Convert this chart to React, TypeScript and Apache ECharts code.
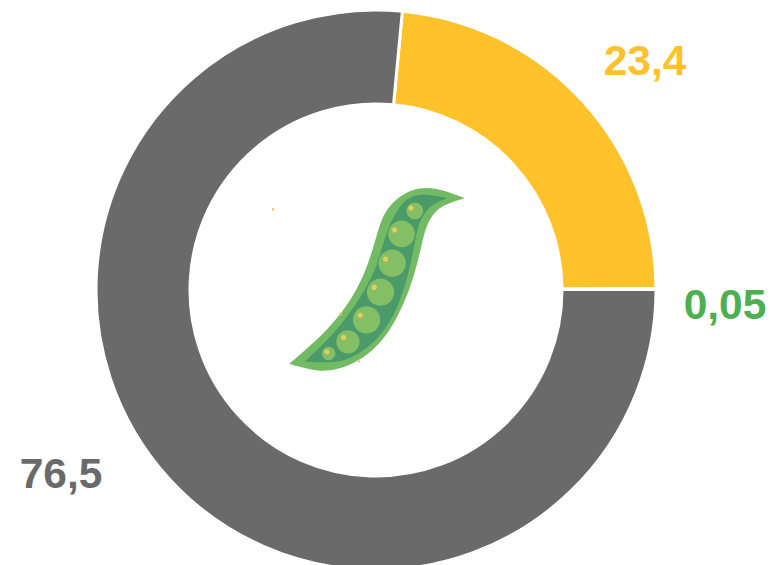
import React, { useEffect, useRef } from "react";
import * as echarts from "echarts";

const names = ["Yellow", "Green", "Gray"];
const values = [23.4, 0.05, 76.5];
const valueLabels = ["23,4", "0,05", "76,5"];
const colors = ["#ffc22b", "#4caf50", "#6a6a6a"];
const labelCenters = [
  [645, 60],
  [725, 304],
  [61, 473],
];

const podOuterTop = [[585, 85], [530, 62], [470, 52], [420, 60], [370, 95], [340, 135], [322, 190], [305, 250], [280, 320], [240, 395], [190, 460], [130, 520], [58, 582]];
const podOuterBottom = [[58, 582], [130, 604], [190, 602], [250, 582], [310, 542], [360, 482], [402, 402], [432, 320], [452, 240], [467, 175], [490, 130], [530, 100], [585, 85]];
const podInnerTop = [[532, 85], [470, 70], [420, 80], [390, 108], [360, 160], [340, 220], [320, 290], [285, 360], [240, 430], [175, 510], [105, 575]];
const podInnerBottom = [[105, 575], [190, 582], [260, 557], [320, 512], [370, 442], [405, 352], [425, 270], [440, 190], [455, 140], [490, 100], [532, 85]];

const smooth = (pts: number[][]) => {
  let d = "";
  for (let i = 1; i < pts.length - 1; i++) {
    const end = i === pts.length - 2 ? pts[i + 1] : [(pts[i][0] + pts[i + 1][0]) / 2, (pts[i][1] + pts[i + 1][1]) / 2];
    d += `Q${pts[i][0]} ${pts[i][1]} ${end[0]} ${end[1]}`;
  }
  return d;
};
const closedPath = (a: number[][], b: number[][]) => `M${a[0][0]} ${a[0][1]}${smooth(a)}${smooth(b)}Z`;

const peas = [
  [435, 123, 25],
  [395, 192, 40],
  [367, 280, 41],
  [332, 367, 41],
  [290, 450, 41],
  [234, 516, 35],
  [176, 551, 20],
];
const seeds = [
  [423, 114, 8],
  [374, 180, 8],
  [347, 268, 8],
  [313, 352, 8],
  [271, 436, 8],
  [221, 503, 8],
  [171, 546, 8],
  [9, 118, 4],
  [211, 433, 5],
  [267, 575, 4],
];

echarts.graphic.registerShape("podOuter", echarts.graphic.extendPath(closedPath(podOuterTop, podOuterBottom), {}));
echarts.graphic.registerShape("podInner", echarts.graphic.extendPath(closedPath(podInnerTop, podInnerBottom), {}));

export default function App() {
  const ref = useRef<HTMLDivElement>(null);
  useEffect(() => {
    document.body.style.margin = "0";
    const chart = echarts.init(ref.current!, null, { renderer: "svg" });
    chart.setOption({
      animation: false,
      backgroundColor: "#ffffff",
      series: [
        {
          type: "pie",
          center: [376, 290],
          radius: [186, 280],
          startAngle: 84.6,
          clockwise: true,
          avoidLabelOverlap: false,
          silent: true,
          itemStyle: { borderColor: "#ffffff", borderWidth: 3 },
          label: {
            show: true,
            position: "outside",
            fontFamily: "'Liberation Sans', Arial, sans-serif",
            fontWeight: "bold",
            fontSize: 42.5,
          },
          labelLine: { show: false },
          labelLayout: (params: any) => ({
            x: labelCenters[params.dataIndex][0],
            y: labelCenters[params.dataIndex][1],
            align: "center",
            verticalAlign: "middle",
          }),
          data: names.map((name, i) => ({
            name,
            value: values[i],
            itemStyle: { color: colors[i] },
            label: { color: colors[i], formatter: valueLabels[i] },
          })),
        },
      ],
      graphic: [
        {
          type: "group",
          x: 270,
          y: 170,
          scaleX: 1 / 3,
          scaleY: 1 / 3,
          silent: true,
          children: [
            { type: "podOuter", style: { fill: "#72ba63" } },
            { type: "podInner", style: { fill: "#4a9b69" } },
            ...peas.map(([cx, cy, r]) => ({
              type: "circle",
              shape: { cx, cy, r },
              style: { fill: "#85bf65" },
            })),
            ...seeds.map(([cx, cy, r]) => ({
              type: "circle",
              shape: { cx, cy, r },
              style: { fill: "#e6cb62" },
            })),
          ],
        },
      ],
    });
    return () => chart.dispose();
  }, []);
  return <div ref={ref} style={{ width: 771, height: 565, position: "absolute", left: 0, top: 0 }} />;
}
